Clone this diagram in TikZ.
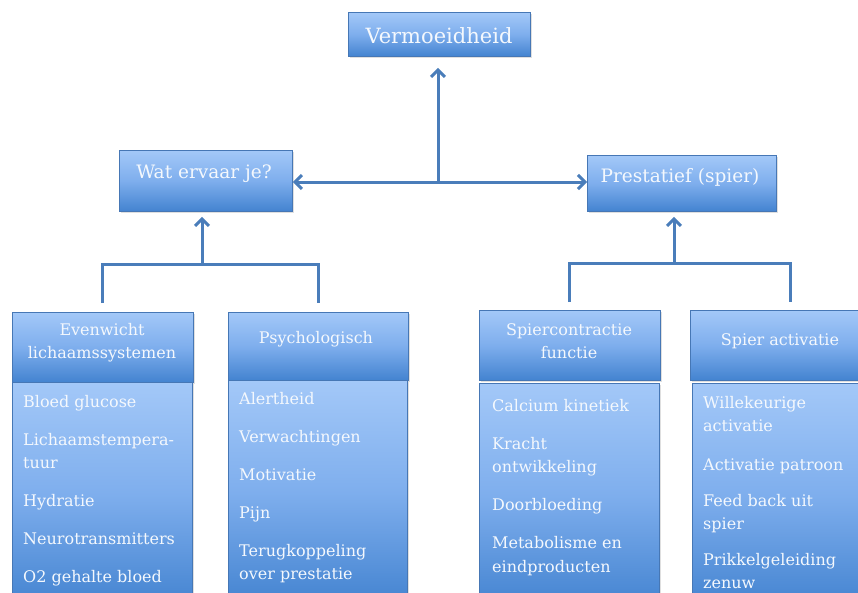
\documentclass[tikz,border=0pt]{standalone}
\usepackage{fontspec}
\setmainfont{DejaVu Serif}
\usetikzlibrary{arrows.meta,shadows}
\definecolor{boxtop}{HTML}{A3C8F8}
\definecolor{boxmid}{HTML}{7EAEED}
\definecolor{boxbot}{HTML}{4383D0}
\definecolor{boxedge}{HTML}{4677B5}
\definecolor{linkc}{HTML}{4A7DBA}
\definecolor{txtc}{HTML}{F4F8FD}
\tikzset{
  box/.style={draw=boxedge, line width=0.8pt, top color=boxtop, bottom color=boxbot, middle color=boxmid,
    anchor=north west, inner sep=0pt,
    drop shadow={opacity=0.25, shadow xshift=1.5pt, shadow yshift=-1.5pt}},
  ttl/.style={text=txtc, inner sep=0pt, anchor=base},
  hdtext/.style={text=txtc, inner sep=0pt, anchor=base, font=\fontsize{16}{23}\selectfont},
  listtext/.style={text=txtc, inner sep=0pt, anchor=base west, font=\fontsize{16}{23.5}\selectfont},
  link/.style={draw=linkc, line width=3pt},
  tip/.style={-{Straight Barb[length=7pt,width=14pt]}}
}
\newcommand{\itemgap}{\\[14.5pt]}
\begin{document}
\begin{tikzpicture}[x=1pt,y=-1pt]
\useasboundingbox (0,0) rectangle (858,592);
\clip (0,0) rectangle (858,592);

% top level
\node[box, minimum width=182pt, minimum height=44pt] (verm) at (348,12) {};
\node[ttl, font=\fontsize{21}{25}\selectfont] (vermt) at (439,43) {Vermoeidheid};

% second level
\node[box, minimum width=173pt, minimum height=61pt] (wat) at (119,150) {};
\node[ttl, font=\fontsize{18.5}{22}\selectfont] (watt) at (204,178) {Wat ervaar je?};
\node[box, minimum width=189pt, minimum height=56pt] (pre) at (587,155) {};
\node[ttl, font=\fontsize{18.5}{22}\selectfont] (pret) at (680,182) {Prestatief (spier)};

% third level headers
\node[box, minimum width=181pt, minimum height=70pt] (evwh) at (12,312) {};
\node[hdtext] (evwt) at (102,335) {\parbox[t]{180pt}{\centering Evenwicht\\lichaamssystemen}};
\node[box, minimum width=180pt, minimum height=68pt] (psyh) at (228,312) {};
\node[hdtext] (psyt) at (316,343) {Psychologisch};
\node[box, minimum width=181pt, minimum height=70pt] (spch) at (479,310) {};
\node[hdtext] (spct) at (569,335) {\parbox[t]{180pt}{\centering Spiercontractie\\functie}};
\node[box, minimum width=200pt, minimum height=70pt] (spah) at (690,310) {};
\node[hdtext] (spat) at (780,345) {Spier activatie};

% lists
\node[box, minimum width=180pt, minimum height=225pt] (evwl) at (12,382) {};
\node[listtext] (evwlt) at (23,407) {\parbox[t]{170pt}{\raggedright Bloed glucose\itemgap Lichaamstempera-\\tuur\itemgap Hydratie\itemgap Neurotransmitters\itemgap O2 gehalte bloed}};
\node[box, minimum width=179pt, minimum height=225pt] (psyl) at (228,380) {};
\node[listtext] (psylt) at (239,404) {\parbox[t]{170pt}{\raggedright Alertheid\itemgap Verwachtingen\itemgap Motivatie\itemgap Pijn\itemgap Terugkoppeling\\over prestatie}};
\node[box, minimum width=180pt, minimum height=225pt] (spcl) at (479,383) {};
\node[listtext] (spclt) at (492,411) {\parbox[t]{170pt}{\raggedright Calcium kinetiek\itemgap Kracht\\ontwikkeling\itemgap Doorbloeding\itemgap Metabolisme en\\eindproducten}};
\node[box, minimum width=200pt, minimum height=225pt] (spal) at (692,383) {};
\node[listtext, font=\fontsize{16}{23}\selectfont] (spalt) at (703,408) {\parbox[t]{170pt}{\raggedright Willekeurige\\activatie\\[16pt]Activatie patroon\\[13pt]Feed back uit\\spier\\[13pt]Prikkelgeleiding\\zenuw}};

% connectors
\coordinate (jt) at (438,182);
\draw[link, {Straight Barb[length=7pt,width=14pt]}-{Straight Barb[length=7pt,width=14pt]}] (wat.east |- jt) -- (pre.west |- jt);
\draw[link, tip, shorten >=11pt] (jt) -- (jt |- verm.south);

\coordinate (jl) at (202,264);
\draw[link] ([yshift=9pt]evwh.north) |- (jl) -| ([yshift=9pt]psyh.north);
\draw[link, tip, shorten >=5pt] (jl) -- (jl |- wat.south);

\coordinate (jr) at (674,263);
\draw[link] ([yshift=8pt]spch.north) |- (jr) -| ([yshift=8pt]spah.north);
\draw[link, tip, shorten >=5pt] (jr) -- (jr |- pre.south);
\end{tikzpicture}
\end{document}
